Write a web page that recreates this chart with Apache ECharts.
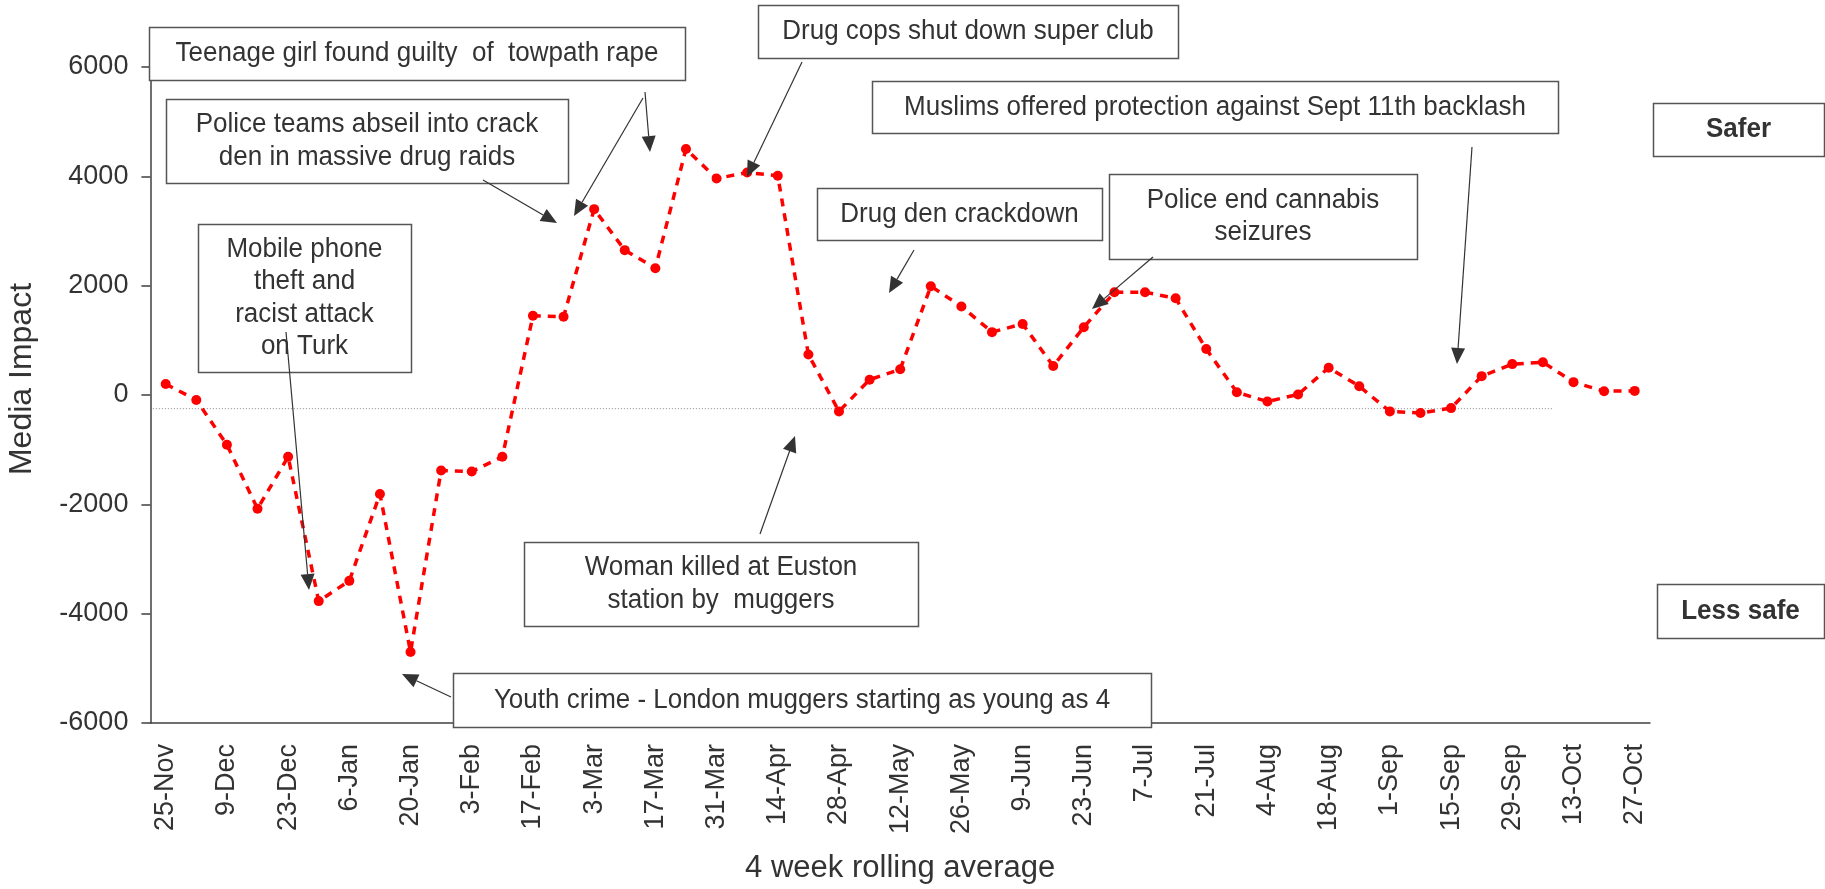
<!DOCTYPE html>
<html><head><meta charset="utf-8">
<script src="https://cdn.jsdelivr.net/npm/echarts@6/dist/echarts.min.js"></script>
<style>html,body{margin:0;padding:0;background:#fff}#c{width:1825px;height:889px}</style>
</head><body><div id="c"></div>
<script>
// ---- data ----
const weeks = ['25-Nov','2-Dec','9-Dec','16-Dec','23-Dec','30-Dec','6-Jan','13-Jan','20-Jan','27-Jan',
  '3-Feb','10-Feb','17-Feb','24-Feb','3-Mar','10-Mar','17-Mar','24-Mar','31-Mar','7-Apr',
  '14-Apr','21-Apr','28-Apr','5-May','12-May','19-May','26-May','2-Jun','9-Jun','16-Jun',
  '23-Jun','30-Jun','7-Jul','14-Jul','21-Jul','28-Jul','4-Aug','11-Aug','18-Aug','25-Aug',
  '1-Sep','8-Sep','15-Sep','22-Sep','29-Sep','6-Oct','13-Oct','20-Oct','27-Oct'];
const mediaImpact = [200,-90,-910,-2080,-1130,-3770,-3400,-1810,-4700,-1380,
  -1400,-1130,1450,1430,3400,2650,2320,4500,3960,4070,
  4010,740,-300,280,470,1990,1620,1150,1300,530,
  1240,1880,1880,1770,840,50,-120,10,500,160,
  -300,-330,-240,345,565,600,235,70,75];
const yMin = -6000, yMax = 6000, yStep = 2000;
const refLevel = -250;          // thin dotted reference level
const refSpan = [-0.42, 45.34]; // in category-index units

// ---- annotation texts ----
const notes = [
  {text:'Teenage girl found guilty  of  towpath rape', box:[149,27,536,53]},
  {text:'Police teams abseil into crack\nden in massive drug raids', box:[166,99,402,84]},
  {text:'Mobile phone\ntheft and\nracist attack\non Turk', box:[198,224,213,148]},
  {text:'Woman killed at Euston\nstation by  muggers', box:[524,542,394,84]},
  {text:'Youth crime - London muggers starting as young as 4', box:[453,673,698,54]},
  {text:'Drug cops shut down super club', box:[758,5,420,53]},
  {text:'Muslims offered protection against Sept 11th backlash', box:[872,81,686,52]},
  {text:'Drug den crackdown', box:[817,188,285,52]},
  {text:'Police end cannabis\nseizures', box:[1109,174,308,85]},
  {text:'Safer', box:[1653,103,171,53], bold:true},
  {text:'Less safe', box:[1657,584,167,54], bold:true}
];
const arrows = [
  [643,98,574,216],[645,92,650,152],[483,180,557,223],[286,332,309,590],
  [451,697,402,674],[802,62,747,177],[760,534,795,436],[914,250,889,293],
  [1153,257,1092,309],[1472,147,1457,364]
];

const FONT = '"Liberation Sans", Arial, sans-serif';
const INK = '#333333';
const graphics = [];
notes.forEach(n => {
  const [x,y,w,h] = n.box;
  graphics.push({type:'rect', shape:{x:x+0.5,y:y+0.5,width:w,height:h},
    style:{fill:'#fff', stroke:'#555', lineWidth:1.5}, z:10});
  graphics.push({type:'text', x:x+w/2, y:y+h/2, z:11, scaleY:1.05,
    style:{text:n.text, fill:INK, font:(n.bold?'bold ':'')+'26px '+FONT,
      align:'center', verticalAlign:'middle', lineHeight:31}});
});
arrows.forEach(([x1,y1,x2,y2]) => {
  const dx=x2-x1, dy=y2-y1, L=Math.hypot(dx,dy), ux=dx/L, uy=dy/L;
  const hl=16, hw=7, bx=x2-ux*hl, by=y2-uy*hl;
  graphics.push({type:'line', z:12, shape:{x1:x1,y1:y1,x2:bx,y2:by}, style:{stroke:INK, lineWidth:1.2}});
  graphics.push({type:'polygon', z:12, shape:{points:[[x2,y2],[bx-uy*hw,by+ux*hw],[bx+uy*hw,by-ux*hw]]},
    style:{fill:INK}});
});
graphics.push({type:'text', x:22, y:379, rotation:Math.PI/2, z:11,
  style:{text:'Media Impact', fill:INK, font:'32px '+FONT, align:'center', verticalAlign:'middle'}});

const chart = echarts.init(document.getElementById('c'), null, {renderer:'canvas'});
chart.setOption({
  animation:false,
  backgroundColor:'#fff',
  textStyle:{fontFamily:FONT},
  grid:{left:150.4, right:175, top:67, bottom:162, containLabel:false},
  xAxis:[{
    type:'category', data:weeks, boundaryGap:true,
    axisLine:{onZero:false, lineStyle:{color:'#404040', width:1.5}},
    axisTick:{show:false},
    axisLabel:{rotate:90, interval:1, fontSize:27, color:INK, margin:21, fontFamily:FONT},
    name:'4 week rolling average', nameLocation:'middle', nameGap:130,
    nameTextStyle:{fontSize:31, color:INK, fontFamily:FONT},
    splitLine:{show:false}
  },{
    type:'value', min:-0.5, max:weeks.length-0.5, show:false,
    axisLine:{onZero:false}
  }],
  yAxis:{
    type:'value', min:yMin, max:yMax, interval:yStep,
    axisLine:{show:true, onZero:false, lineStyle:{color:'#404040', width:1.5}},
    axisTick:{show:true, length:9, lineStyle:{color:'#404040', width:1.5}},
    axisLabel:{fontSize:27, color:INK, margin:22, fontFamily:FONT, formatter:v => String(v)},
    splitLine:{show:false}
  },
  series:[{
    type:'line', xAxisIndex:1, data:[[refSpan[0],refLevel],[refSpan[1],refLevel]],
    symbol:'none', silent:true, z:1,
    lineStyle:{color:'#888', width:1, type:[1,2]}
  },{
    type:'line', data:mediaImpact, z:3,
    symbol:'circle', symbolSize:10, showSymbol:true,
    itemStyle:{color:'#FF0000'},
    lineStyle:{color:'#FF0000', width:3.5, type:[8,7]}
  }],
  graphic:graphics
});
</script></body></html>
